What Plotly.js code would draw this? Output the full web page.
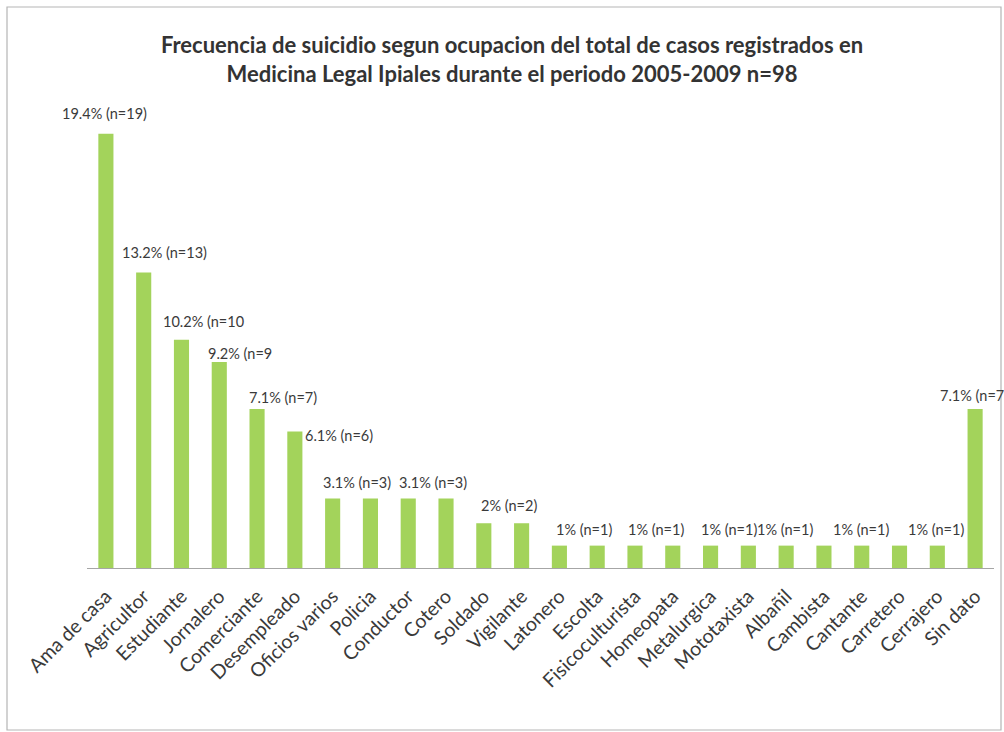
<!DOCTYPE html>
<html>
<head>
<meta charset="utf-8">
<script src="https://cdn.plot.ly/plotly-3.0.1.min.js"></script>
<style>
html,body{margin:0;padding:0;background:#fff;}
#chart{width:1004px;height:732px;}
</style>
</head>
<body>
<div id="chart"></div>
<script>
// ---- data ----
var categories = ["Ama de casa","Agricultor","Estudiante","Jornalero","Comerciante","Desempleado",
  "Oficios varios","Policia","Conductor","Cotero","Soldado","Vigilante","Latonero","Escolta",
  "Fisicoculturista","Homeopata","Metalurgica","Mototaxista","Albañil","Cambista","Cantante",
  "Carretero","Cerrajero","Sin dato"];
var counts = [19,13,10,9,7,6,3,3,3,3,2,2,1,1,1,1,1,1,1,1,1,1,1,7];
var percents = [19.4,13.2,10.2,9.2,7.1,6.1,3.1,3.1,3.1,3.1,2,2,1,1,1,1,1,1,1,1,1,1,1,7.1];

// data labels as printed in the reference (some are cut off there)
var labelTexts = ["19.4% (n=19)","13.2% (n=13)","10.2% (n=10","9.2% (n=9","7.1% (n=7)","6.1% (n=6)",
  "3.1% (n=3)","3.1% (n=3)","2% (n=2)","1% (n=1)","1% (n=1)","1% (n=1)","1% (n=1)","1% (n=1)","1% (n=1)","7.1% (n=7"];
var labelCat = [0,1,2,3,4,5,6,8,10,12,14,16,18,19,21,23];

// ---- label placement (layout only) ----
var labelDx = [-0.05,0.55,0.57,0.55,0.68,1.16,0.65,0.65,0.67,0.65,0.55,0.48,-0.04,0.97,0.96,0.0];
var labelDy = [0.9,0.9,0.8,0.4,0.53,-0.16,0.74,0.74,0.81,0.72,0.72,0.72,0.72,0.72,0.72,0.6];
var labelAnchor = ['center','center','center','center','center','center','center','center',
  'center','center','center','center','center','center','center','right'];

var annotations = labelTexts.map(function(t,i){
  var c = labelCat[i];
  var right = labelAnchor[i] === 'right';
  return {x: right ? 1.0 : c + labelDx[i], y: percents[c] + labelDy[i],
    xref: right ? 'paper' : 'x', yref:'y',
    text: t, showarrow:false, xanchor: right ? 'left' : 'center', yanchor:'middle',
    xshift: right ? -56 : 0,
    font:{family:'Lato, "Open Sans", sans-serif', size:14.5, color:'#3a3a3a'}};
});

var trace = {
  type:'bar',
  x: categories.map(function(c,i){return i;}),
  y: percents,
  marker:{color:'#a3d35b'},
  width:0.4,
  hoverinfo:'x+y'
};

var layout = {
  width:1004, height:732,
  margin:{l:87, r:10, t:98, b:164},
  paper_bgcolor:'#fff', plot_bgcolor:'#fff',
  showlegend:false,
  title:{text:'Frecuencia de suicidio segun ocupacion del total de casos registrados en<br>Medicina Legal Ipiales durante el periodo 2005-2009 n=98',
    font:{family:'Lato, "Open Sans", sans-serif', size:22, color:'#333', weight:'bold'},
    x:0.51, xanchor:'center', y:0.927, yanchor:'middle'},
  xaxis:{
    range:[-0.5,23.5],
    tickmode:'array', tickvals: categories.map(function(c,i){return i;}), ticktext: categories,
    tickangle:-45, ticks:'', showline:true, linecolor:'#a6a6a6', linewidth:1.3,
    showgrid:false, zeroline:false, ticklabelstandoff:8,
    tickfont:{family:'Lato, "Open Sans", sans-serif', size:19.5, color:'#3a3a3a'}
  },
  yaxis:{range:[0,21], visible:false, showgrid:false, zeroline:false},
  annotations: annotations,
  shapes:[{type:'rect', xref:'paper', yref:'paper',
    x0:(7-87)/907, x1:(1001-87)/907, y0:(568-730)/470, y1:(568-7)/470,
    line:{color:'#b5b5b5', width:1.2}, fillcolor:'rgba(0,0,0,0)', layer:'below'}]
};

Plotly.newPlot('chart',[trace],layout,{displayModeBar:false, staticPlot:true});
</script>
</body>
</html>
